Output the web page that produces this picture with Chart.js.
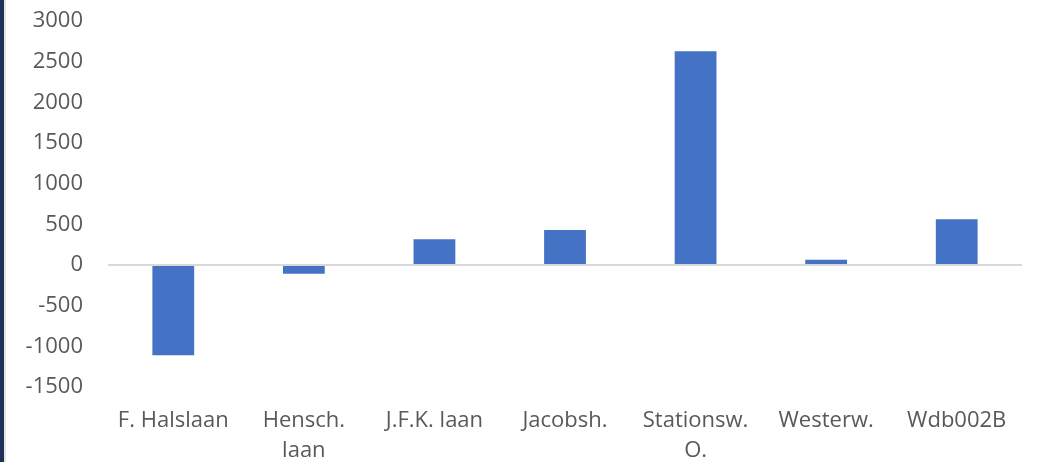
<!DOCTYPE html>
<html>
<head>
<meta charset="utf-8">
<script src="https://cdn.jsdelivr.net/npm/chart.js@4"></script>
<style>
  html, body { margin: 0; padding: 0; background: #fff; }
  body { width: 1038px; height: 462px; position: relative; overflow: hidden; }
  .edge { position: absolute; left: 0; top: 0; width: 4px; height: 462px; background: #1d3157; }
  .edge2 { position: absolute; left: 4px; top: 0; width: 2px; height: 462px; background: #e3e3e3; }
  .wrap { position: absolute; left: 6px; top: 0; width: 1032px; height: 462px; }
</style>
</head>
<body>
<div class="edge"></div>
<div class="edge2"></div>
<div class="wrap"><canvas id="barChart"></canvas></div>
<script>
const categories = [
  "F. Halslaan",
  ["Hensch.", "laan"],
  "J.F.K. laan",
  "Jacobsh.",
  ["Stationsw.", "O."],
  "Westerw.",
  "Wdb002B",
];
const values = [-1110, -107, 316, 430, 2627, 65, 562];
const yTicks = [-1500, -1000, -500, 0, 500, 1000, 1500, 2000, 2500, 3000];

const textColor = "#595959";
const font = { family: "'Open Sans', 'Liberation Sans', sans-serif", size: 22 };

new Chart(document.getElementById("barChart"), {
  type: "bar",
  data: {
    labels: categories,
    datasets: [
      {
        data: values,
        backgroundColor: "#4472C4",
        borderWidth: 0,
      },
    ],
  },
  options: {
    responsive: true,
    maintainAspectRatio: false,
    animation: false,
    categoryPercentage: 1,
    barPercentage: 0.32,
    layout: {
      padding: { top: 21, right: 16, bottom: 0, left: 0 },
    },
    plugins: {
      legend: { display: false },
      tooltip: { enabled: false },
    },
    scales: {
      x: {
        grid: { display: false },
        border: { display: false },
        ticks: {
          color: textColor,
          font: { ...font, lineHeight: 30 / 22 },
          padding: 11,
          maxRotation: 0,
          autoSkip: false,
        },
        afterFit: (scale) => {
          scale.height = 75;
        },
      },
      y: {
        min: yTicks[0],
        max: yTicks[yTicks.length - 1],
        border: { display: false },
        grid: {
          drawTicks: false,
          lineWidth: 2,
          color: (ctx) => (ctx.tick && ctx.tick.value === 0 ? "#d9d9d9" : "rgba(0,0,0,0)"),
        },
        afterBuildTicks: (scale) => {
          scale.ticks = yTicks.map((v) => ({ value: v }));
        },
        ticks: {
          color: textColor,
          font: font,
          padding: 25,
          callback: (value) => String(value),
        },
        afterFit: (scale) => {
          // fixed axis width; the big tick padding should not push the plot down
          scale.width = 102;
          scale.paddingTop = 0;
          scale.paddingBottom = 0;
        },
      },
    },
  },
});
</script>
</body>
</html>
